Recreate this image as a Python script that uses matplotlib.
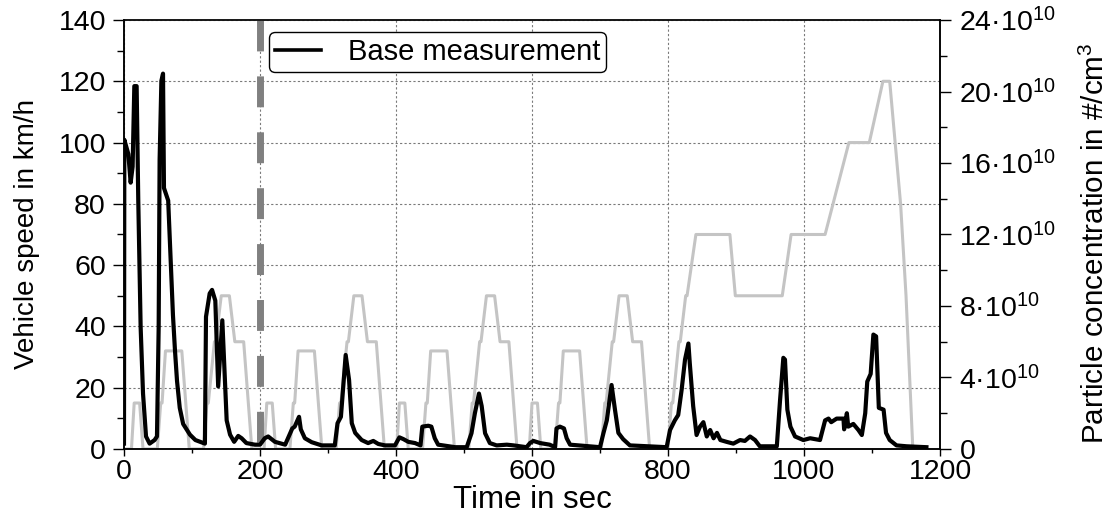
import matplotlib
matplotlib.use("Agg")
import matplotlib.pyplot as plt
from matplotlib.ticker import MultipleLocator, FuncFormatter
from matplotlib.lines import Line2D

plt.rcParams["font.family"] = ["Liberation Sans", "DejaVu Sans"]
plt.rcParams["mathtext.fontset"] = "custom"
plt.rcParams["mathtext.rm"] = "Liberation Sans"
plt.rcParams["mathtext.it"] = "Liberation Sans:italic"

# NEDC speed profile (time in s, speed in km/h)
speed_t = [0, 11, 15, 23, 28, 49, 54, 56, 61, 85, 96, 117, 122, 124, 133, 135, 143, 155, 163, 176, 188,
           195, 206, 210, 218, 223, 244, 249, 251, 256, 280, 291, 312, 317, 319, 328, 330, 338, 350, 358, 371, 383,
           390, 401, 405, 413, 418, 439, 444, 446, 451, 475, 486, 507, 512, 514, 523, 525, 533, 545, 553, 566, 578,
           585, 596, 600, 608, 613, 634, 639, 641, 646, 670, 681, 702, 707, 709, 718, 720, 728, 740, 748, 761, 773,
           780, 800, 805, 807, 816, 818, 826, 828, 841, 891, 899, 968, 981, 1031, 1066, 1096, 1116, 1126, 1142,
           1150, 1160, 1180]
speed_v = [0, 0, 15, 15, 0, 0, 15, 15, 32, 32, 0, 0, 15, 15, 35, 35, 50, 50, 35, 35, 0,
           0, 0, 15, 15, 0, 0, 15, 15, 32, 32, 0, 0, 15, 15, 35, 35, 50, 50, 35, 35, 0,
           0, 0, 15, 15, 0, 0, 15, 15, 32, 32, 0, 0, 15, 15, 35, 35, 50, 50, 35, 35, 0,
           0, 0, 15, 15, 0, 0, 15, 15, 32, 32, 0, 0, 15, 15, 35, 35, 50, 50, 35, 35, 0,
           0, 0, 15, 15, 35, 35, 50, 50, 70, 70, 50, 50, 70, 70, 100, 100, 120, 120, 80,
           50, 0, 0]

# particle concentration, base measurement (time in s, value in 1e10 #/cm3)
conc_t = [0, 0.5, 6.4, 9.8, 12.7, 15.2, 18.6, 21, 24.5, 28, 32.4, 37.7, 45, 48.5,
          51, 52.4, 55, 57.4, 58.8, 65, 69.6, 72, 75, 78, 82, 87, 97, 105, 112, 119,
          120.6, 126, 129.5, 134.3, 138.5, 144.6, 151, 156, 162, 168, 173, 180, 192.6, 200,
          207, 212, 222, 237, 247.5, 251, 257.4, 260, 266, 276, 290.7, 310,
          314, 319, 326, 331, 335, 340, 349.5, 359, 366.6, 374, 384, 398.5,
          405, 411, 418, 428, 436, 438.7, 447.5, 452, 457, 462, 487,
          504, 511, 516, 522, 526, 531, 538, 548, 563, 573, 592, 597, 602, 612, 626, 634,
          636, 641, 647, 651, 656, 700, 705, 710, 717, 722, 727, 734, 744, 798,
          803, 810, 815, 820, 825, 830, 832, 837, 842, 847, 852, 857, 862, 867, 872, 877,
          886, 896, 906, 913, 920.6, 928, 935, 960, 964.7, 969.6, 972, 975.5, 980, 986.8,
          999, 1009, 1023.5, 1031, 1036, 1040, 1048, 1058, 1059, 1063, 1065, 1072.5, 1080,
          1085, 1090, 1093, 1098, 1102, 1106, 1110, 1117, 1120.6, 1126, 1136, 1151, 1180]
conc_v = [0.3, 17.3, 16.5, 14.9, 15.8, 20.3, 20.3, 13.9, 6.8, 3.1, 0.7, 0.3, 0.5, 0.7,
          6.8, 16.2, 20.6, 21.0, 14.6, 13.9, 9.6, 7.5, 5.5, 3.8, 2.3, 1.4, 0.8, 0.5, 0.4, 0.3,
          7.4, 8.7, 8.9, 8.3, 3.5, 7.2, 1.6, 0.8, 0.4, 0.73, 0.6, 0.33, 0.24, 0.24,
          0.6, 0.7, 0.4, 0.24, 1.15, 1.25, 1.8, 1.1, 0.6, 0.38, 0.2, 0.2,
          1.44, 1.8, 5.26, 3.86, 1.44, 0.9, 0.5, 0.33, 0.45, 0.28, 0.2, 0.2,
          0.65, 0.55, 0.4, 0.33, 0.2, 1.25, 1.3, 1.25, 0.6, 0.24, 0.1,
          0.1, 0.88, 2.0, 3.1, 2.4, 0.88, 0.33, 0.2, 0.24, 0.2, 0.1, 0.33, 0.45, 0.33, 0.24, 0.1,
          1.15, 1.25, 1.15, 0.6, 0.24, 0.1, 0.88, 1.6, 3.58, 2.2, 0.9, 0.55, 0.2, 0.1,
          1.06, 1.6, 1.9, 3.3, 5.0, 5.9, 4.8, 2.4, 0.78, 1.25, 1.5, 0.7, 1.06, 0.6, 0.9, 0.5,
          0.4, 0.3, 0.5, 0.45, 0.7, 0.5, 0.15, 0.15, 2.7, 5.1, 5.0, 2.2, 1.25, 0.7,
          0.5, 0.6, 0.5, 1.6, 1.7, 1.5, 1.7, 1.7, 1.1, 2.0, 1.25, 1.4, 1.06,
          0.78, 2.0, 3.77, 4.2, 6.4, 6.3, 2.3, 2.2, 0.9, 0.5, 0.2, 0.15, 0.1]

conc_ticks = [0, 4, 8, 12, 16, 20, 24]
marker_time = 200

fig = plt.figure(figsize=(11.08, 5.13), dpi=100)
ax = fig.add_axes([0.1119, 0.1248, 0.7365, 0.8362])
ax2 = ax.twinx()

ax.plot(speed_t, speed_v, color="#c4c4c4", lw=2.2, zorder=2)
ax.plot([marker_time, marker_time], [140, 0], color="#808080", lw=5,
        dashes=(4.45, 3.6), solid_capstyle="butt", dash_capstyle="butt", zorder=3)
ax2.plot(conc_t, conc_v, color="black", lw=3, zorder=4)

ax.set_xlim(0, 1200)
ax.set_ylim(0, 140)
ax2.set_ylim(0, 24)

ax.xaxis.set_major_locator(MultipleLocator(200))
ax.xaxis.set_minor_locator(MultipleLocator(100))
ax.yaxis.set_major_locator(MultipleLocator(20))
ax.yaxis.set_minor_locator(MultipleLocator(10))
ax2.set_yticks(conc_ticks)
ax2.yaxis.set_minor_locator(MultipleLocator(2))
ax2.yaxis.set_major_formatter(FuncFormatter(
    lambda v, p: "0" if v == 0 else f"{int(v)}\u00b710$^{{10}}$"))

ax.grid(True, which="major", color="#7a7a7a", lw=0.8, linestyle=(0, (2, 2)))
ax.set_axisbelow(True)

ax.tick_params(axis="y", which="major", direction="out", length=8, width=1, labelsize=20.5, pad=5)
ax.tick_params(axis="y", which="minor", direction="out", length=5, width=1)
ax.tick_params(axis="x", which="major", direction="out", length=5, width=1, labelsize=20.5, pad=2)
ax.tick_params(axis="x", which="minor", direction="out", length=3, width=1)
ax2.tick_params(axis="y", which="major", direction="out", length=8, width=1, labelsize=20.5, pad=6)
ax2.tick_params(axis="y", which="minor", direction="out", length=5, width=1)

for a in (ax, ax2):
    for s in a.spines.values():
        s.set_linewidth(1.1)
ax.spines["top"].set_color("#555555")

ax.set_ylabel("Vehicle speed in km/h", fontsize=20)
ax.yaxis.set_label_coords(-0.103, 0.5)
ax2.set_ylabel("Particle concentration in #/cm$^3$", fontsize=21.3)
ax2.yaxis.set_label_coords(1.172, 0.48)
ax.set_xlabel("Time in sec", fontsize=22.5)
ax.xaxis.set_label_coords(0.5, -0.083)

handle = Line2D([], [], color="black", lw=2.6)
leg = ax2.legend([handle], ["Base measurement"], loc="upper left",
                 bbox_to_anchor=(0.1777, 0.972), borderaxespad=0, fontsize=21,
                 handlelength=1.6, handletextpad=0.9, borderpad=0.2,
                 fancybox=True, framealpha=1, edgecolor="black")
leg.get_frame().set_linewidth(1.0)

fig.savefig("out.png", dpi=100)
